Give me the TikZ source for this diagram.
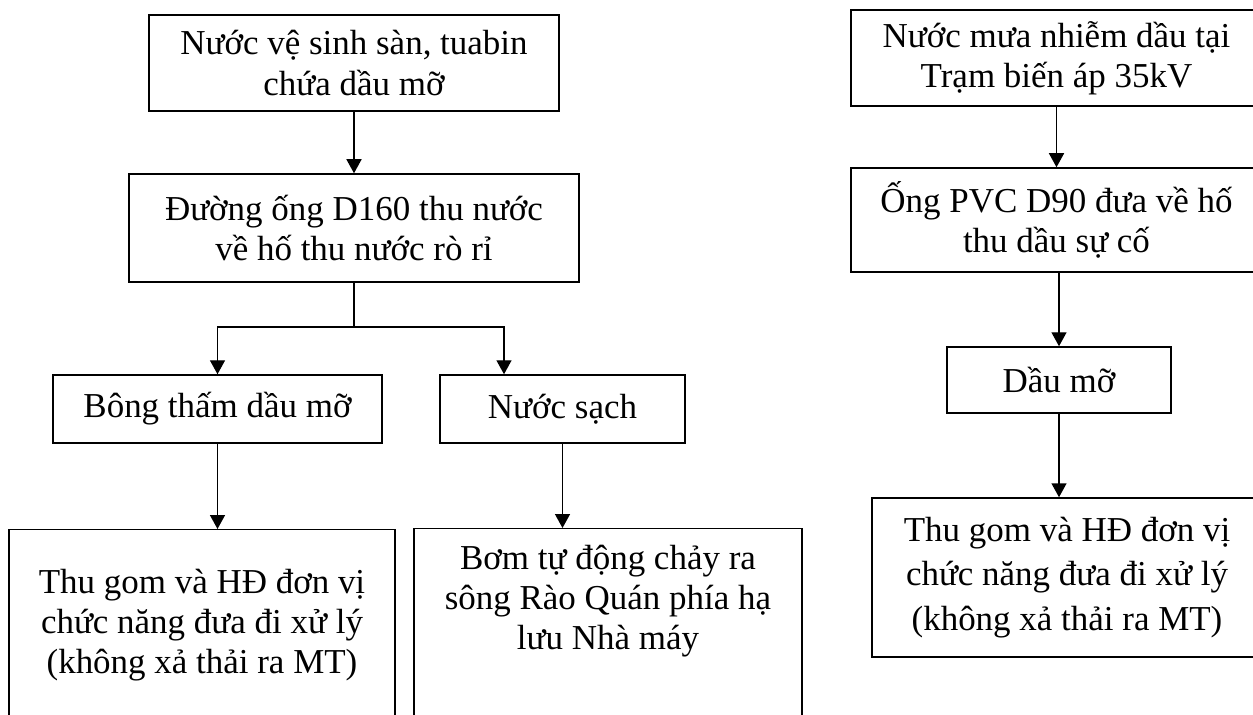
\documentclass[tikz,border=0pt]{standalone}
\usepackage{fontspec}
\setmainfont{Liberation Serif}
\usetikzlibrary{arrows.meta}
\begin{document}
\begin{tikzpicture}[
  box/.style={draw, line width=0.85pt, align=center, inner sep=0pt, font=\fontsize{19.9}{23}\selectfont},
  >={Triangle[length=0.28cm, width=0.3cm]}, line width=0.85pt]
\useasboundingbox (0,0) rectangle (25.06,-14.3);
\clip (0,0) rectangle (25.06,-14.3);
% left branch
\node[box, minimum width=8.2cm, minimum height=1.92cm] (nuocvs) at (7.08,-1.26) {Nước vệ sinh sàn, tuabin\\chứa dầu mỡ};
\node[box, minimum width=9cm, minimum height=2.16cm] (duongong) at (7.08,-4.56) {Đường ống D160 thu nước\\về hố thu nước rò rỉ};
\node[box, minimum width=6.58cm, minimum height=1.36cm] (bongtham) at (4.35,-8.18) {Bông thấm dầu mỡ};
\node[box, minimum width=4.9cm, minimum height=1.36cm] (nuocsach) at (11.25,-8.18) {Nước sạch};
\node[box, minimum width=7.72cm, anchor=north, inner ysep=0.78cm, text depth=4cm] (thugomA) at (4.04,-10.58) {Thu gom và HĐ đơn vị\\chức năng đưa đi xử lý\\(không xả thải ra MT)};
\node[box, minimum width=7.76cm, anchor=north, inner ysep=0.32cm, text depth=4cm] (bomsong) at (12.16,-10.56) {Bơm tự động chảy ra\\sông Rào Quán phía hạ\\lưu Nhà máy};
\coordinate (split) at (7.08,-6.54);
\coordinate (tap) at (10.08,-6.54);
\draw[->] (nuocvs) -- (duongong);
\draw (duongong) -- (split);
\draw[->] (split) -| (bongtham);
\draw[->] (split) -- (tap) -- (tap |- nuocsach.north);
\draw[->] (bongtham) -- (bongtham |- thugomA.north);
\draw[->] (nuocsach) -- (nuocsach |- bomsong.north);
% right branch
\node[box, minimum width=8.22cm, minimum height=1.92cm] (nuocmua) at (21.13,-1.16) {Nước mưa nhiễm dầu tại\\Trạm biến áp 35kV};
\node[box, minimum width=8.22cm, minimum height=2.08cm] (ongpvc) at (21.13,-4.40) {Ống PVC D90 đưa về hố\\thu dầu sự cố};
\node[box, minimum width=4.48cm, minimum height=1.32cm] (daumo) at (21.18,-7.60) {Dầu mỡ};
\node[box, minimum width=7.8cm, minimum height=3.18cm, font=\fontsize{19.9}{25.5}\selectfont] (thugomB) at (21.34,-11.55) {Thu gom và HĐ đơn vị\\chức năng đưa đi xử lý\\(không xả thải ra MT)};
\draw[->] (nuocmua) -- (ongpvc);
\draw[->] (ongpvc.south -| daumo) -- (daumo);
\draw[->] (daumo) -- (daumo |- thugomB.north);
\end{tikzpicture}
\end{document}
